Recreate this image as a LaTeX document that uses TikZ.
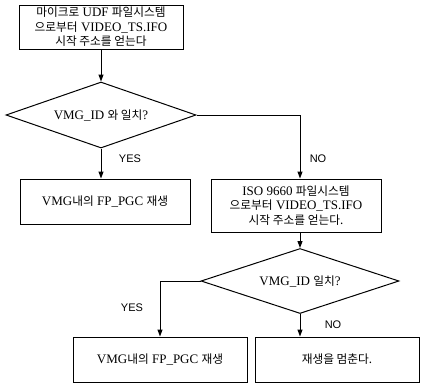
\documentclass[tikz,border=0pt]{standalone}
\usepackage{fontspec}
\setmainfont{Liberation Serif}
\newfontfamily\yesnofont{Liberation Sans}
\newfontfamily\kofont[Scale=0.9]{Noto Sans CJK KR}
\newcommand{\ko}[1]{{\kofont #1}}
\usetikzlibrary{shapes.geometric,arrows.meta}

\begin{document}
\begin{tikzpicture}[x=1pt,y=-1pt,
    box/.style={draw,line width=1pt,align=center,inner sep=0pt,font=\fontsize{13}{14.5}\selectfont},
    cond/.style={draw,diamond,aspect=3,line width=1pt,inner sep=0pt,font=\fontsize{13}{15}\selectfont},
    lbl/.style={font=\yesnofont\fontsize{11}{13}\selectfont},
    flow/.style={line width=1pt,-{Triangle[length=7pt,width=5pt]}}]
    \useasboundingbox (0,0) rectangle (422,384);
    % Boxes
    \node[box,minimum width=164pt,minimum height=44pt] (udf) at (101,27)
      {\ko{마이크로} UDF \ko{파일시스템}\\\ko{으로부터} VIDEO\_TS.IFO\\\ko{시작 주소를 얻는다}};
    \node[box,minimum width=170pt,minimum height=45pt] (play1) at (105,201.5)
      {VMG\ko{내의} FP\_PGC \ko{재생}};
    \node[box,minimum width=170pt,minimum height=53pt] (iso) at (296,205.5)
      {ISO 9660 \ko{파일시스템}\\\ko{으로부터} VIDEO\_TS.IFO\\\ko{시작 주소를 얻는다.}};
    \node[box,minimum width=174pt,minimum height=45pt] (play2) at (160,359.5)
      {VMG\ko{내의} FP\_PGC \ko{재생}};
    \node[box,minimum width=164pt,minimum height=45pt] (stop) at (337,359.5)
      {\ko{재생을 멈춘다.}};
    % Decisions
    \node[cond,minimum width=190pt,minimum height=66pt] (d1) at (101,115) {VMG\_ID \ko{와 일치}?};
    \node[cond,minimum width=198pt,minimum height=65pt] (d2) at (300,281) {VMG\_ID \ko{일치}?};
    % Arrows
    \draw[flow] (udf.south) -- (d1.north);
    \draw[flow] (d1.south) -- (d1.south |- play1.north);
    \draw[flow] (d1.east) -| (d2.north |- iso.north);
    \draw[flow] (iso.south -| d2.north) -- (d2.north);
    \draw[flow] (d2.west) -| (play2.north);
    \draw[flow] (d2.south) -- (d2.south |- stop.north);
    % Labels
    \node[lbl] (yes1) at (130,159) {YES};
    \node[lbl] (no1) at (318,159) {NO};
    \node[lbl] (yes2) at (132,308) {YES};
    \node[lbl] (no2) at (333,325) {NO};
\end{tikzpicture}
\end{document}
